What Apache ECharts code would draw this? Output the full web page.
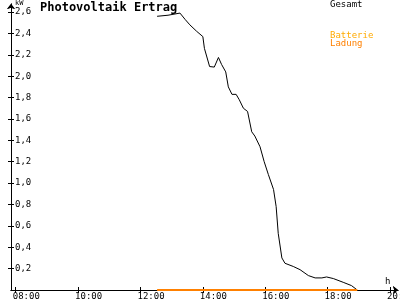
<!DOCTYPE html>
<html>
<head>
<meta charset="utf-8">
<script src="https://cdn.jsdelivr.net/npm/echarts@6/dist/echarts.min.js"></script>
<style>html,body{margin:0;padding:0;background:#fff}#c{width:400px;height:300px}</style>
</head>
<body>
<div id="c"></div>
<script>
var gesamtTimes = ["12:32","12:53","13:16","13:19","13:26","13:35","13:48","14:00","14:03","14:13","14:22","14:30","14:36","14:44","14:49","14:56","15:04","15:10","15:18","15:26","15:34","15:40","15:50","15:58","16:06","16:16","16:21","16:25","16:32","16:38","16:54","17:07","17:23","17:36","17:49","17:58","18:11","18:30","18:46","18:57"];
var gesamtValues = [2.56,2.57,2.59,2.58,2.53,2.48,2.42,2.37,2.26,2.09,2.085,2.175,2.11,2.04,1.90,1.83,1.83,1.78,1.70,1.67,1.48,1.44,1.34,1.20,1.08,0.94,0.78,0.53,0.30,0.25,0.22,0.19,0.135,0.113,0.113,0.122,0.107,0.072,0.041,0.0];
var ladungTimes = ["12:32","18:57"];
var ladungValues = [0, 0];
var xTickHours = [8,10,12,14,16,18,20];
var yTickValues = [0.2,0.4,0.6,0.8,1.0,1.2,1.4,1.6,1.8,2.0,2.2,2.4,2.6];

function toH(t){var p=t.split(':');return +p[0]+(+p[1])/60;}
function pairs(ts,vs){return ts.map(function(t,i){return [toH(t),vs[i]];});}
function hLabel(v){var h=Math.round(v);return (h<10?'0':'')+h+':00';}
function yLabel(v){return v.toFixed(1).replace('.',',');}

var FONT='DejaVu Sans Mono';
var XMIN=7.849, XMAX=20.257, YMAX=2.675;
var baseX={type:'value',min:XMIN,max:XMAX,position:'bottom',
  axisLine:{show:true,lineStyle:{color:'#000',width:1},symbol:['none','arrow'],symbolSize:[6,5]},
  splitLine:{show:false}};
var baseY={type:'value',min:0,max:YMAX,position:'left',
  axisLine:{show:true,lineStyle:{color:'#000',width:1},symbol:['none','arrow'],symbolSize:[6,5]},
  splitLine:{show:false}};

var chart=echarts.init(document.getElementById('c'),null,{renderer:'canvas'});
chart.setOption({
  animation:false,
  backgroundColor:'#fff',
  grid:{left:11,right:2,top:4,bottom:10,containLabel:false,outerBoundsMode:'none'},
  xAxis:[
    Object.assign({},baseX,{
      axisTick:{show:true,inside:false,length:3,lineStyle:{color:'#000'},customValues:xTickHours},
      axisLabel:{show:true,customValues:xTickHours,formatter:hLabel,fontFamily:FONT,fontSize:9,color:'#000',margin:2,align:'left',padding:[0,0,0,-3],hideOverlap:false}
    }),
    Object.assign({},baseX,{
      axisTick:{show:true,inside:true,length:3,lineStyle:{color:'#000'},customValues:xTickHours},
      axisLabel:{show:false}
    })
  ],
  yAxis:[
    Object.assign({},baseY,{
      axisTick:{show:true,inside:false,length:3,lineStyle:{color:'#000'},customValues:yTickValues},
      axisLabel:{show:true,inside:true,customValues:yTickValues,formatter:yLabel,fontFamily:FONT,fontSize:9,color:'#000',margin:4}
    }),
    Object.assign({},baseY,{
      axisTick:{show:true,inside:true,length:3,lineStyle:{color:'#000'},customValues:yTickValues},
      axisLabel:{show:false}
    })
  ],
  series:[
    {name:'Gesamt',type:'line',data:pairs(gesamtTimes,gesamtValues),showSymbol:false,symbol:'none',
     lineStyle:{color:'#000',width:1},z:3},
    {name:'Ladung',type:'line',data:pairs(ladungTimes,ladungValues),showSymbol:false,symbol:'none',
     lineStyle:{color:'#ff8000',width:2},z:4}
  ],
  graphic:[
    {type:'text',left:40,top:2,style:{text:'Photovoltaik Ertrag',font:'bold 12px "DejaVu Sans Mono"',fill:'#000'}},
    {type:'text',left:15,top:0,style:{text:'kW',font:'7px "DejaVu Sans Mono"',fill:'#000'}},
    {type:'text',left:330,top:0,style:{text:'Gesamt',font:'9px "DejaVu Sans Mono"',fill:'#000'}},
    {type:'text',left:330,top:31,style:{text:'Batterie',font:'9px "DejaVu Sans Mono"',fill:'#ffaa00'}},
    {type:'text',left:330,top:39,style:{text:'Ladung',font:'9px "DejaVu Sans Mono"',fill:'#ff8000'}},
    {type:'text',left:385,top:277,style:{text:'h',font:'9px "DejaVu Sans Mono"',fill:'#000'}}
  ]
});
</script>
</body>
</html>
